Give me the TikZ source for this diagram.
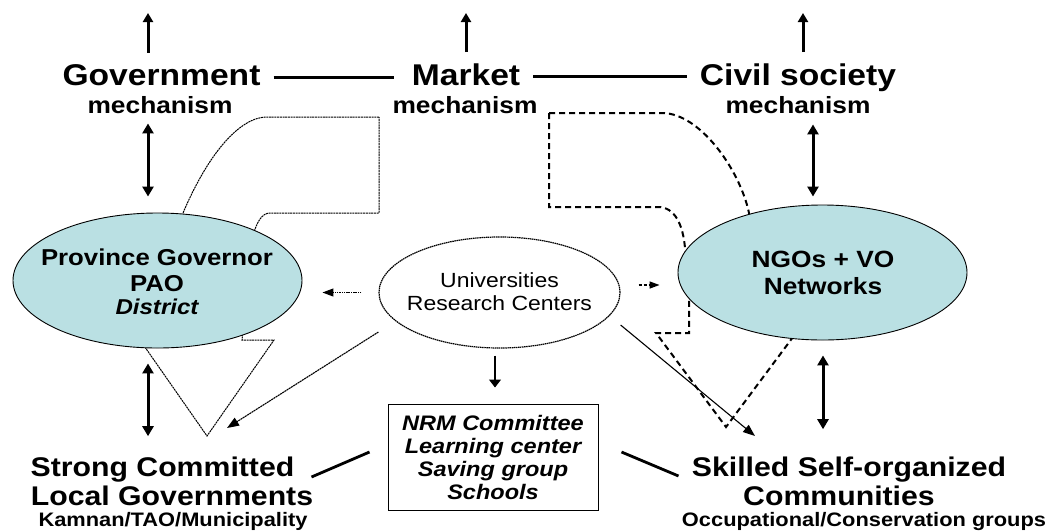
\documentclass[tikz,border=0pt]{standalone}
\usepackage{fontspec}
\setmainfont{Liberation Sans}[FakeStretch=1.12]
\usetikzlibrary{arrows.meta,shapes.geometric}
\definecolor{ovalfill}{RGB}{186,224,227}
\newcommand\fsz[2]{\fontsize{#1}{#2}\selectfont}
\begin{document}
\begin{tikzpicture}[x=1pt,y=-1pt,
  lbl/.style={inner sep=0pt,anchor=base},
  head/.style={lbl,font=\fsz{30}{36}\bfseries},
  mech/.style={lbl,font=\fsz{23.5}{28}\bfseries},
  big/.style={lbl,font=\fsz{27}{32}\bfseries},
  small/.style={lbl,font=\fsz{19.5}{24}\bfseries},
  oval/.style={ellipse,draw,line width=0.9pt,fill=ovalfill,
    minimum width=289pt,minimum height=135pt,inner sep=0pt},
  thickln/.style={line width=2.8pt},
  uparr/.style={line width=3pt,>={Triangle[length=9pt,width=10pt]},->},
  dbl/.style={line width=3pt,>={Triangle[length=10pt,width=11pt]},<->},
  fine/.style={line width=1pt,dash pattern=on 2pt off 0.7pt},
  thinarr/.style={line width=1.1pt,>={Triangle[length=12pt,width=9pt]},->},
  smallarr/.style={line width=1.1pt,>={Triangle[length=11pt,width=8pt]},->},
]
\fill[white] (0,0) rectangle (1047,531);
\useasboundingbox (0,0) rectangle (1047,531);

% bent block arrow from the market towards the local governments (behind the ovals)
\draw[fine]
  (379,117) -- (267,117)
  .. controls (240,117) and (208.5,153) .. (183,213)
  -- (172,340) -- (140,340) -- (207,436) -- (274,340) -- (242,340)
  -- (252,240) .. controls (256,222) and (262,213) .. (270,213)
  -- (379,213) -- cycle;

% bent block arrow from the market towards the communities (behind the ovals)
\draw[line width=2pt,dash pattern=on 6pt off 4pt]
  (549,113) -- (662,113)
  .. controls (700,113) and (740,170) .. (749,213)
  -- (764,333) -- (796,333) -- (726,427) -- (656,333) -- (689,333)
  -- (689,270) -- (685,248)
  .. controls (683,225) and (675,207) .. (658,207)
  -- (549,207) -- cycle;

% ovals
\node[oval] (prov) at (157.5,280.5) {};
\node[oval] (ngo) at (822.5,272.5) {};
\node[ellipse,draw,line width=1.2pt,dash pattern=on 1.5pt off 0.6pt,fill=white,
  minimum width=241pt,minimum height=111pt,inner sep=0pt] (uni) at (499.5,292.5) {};

\node[inner sep=0pt,align=center,font=\fsz{23}{26}\bfseries] (provtxt) at (157,282.2)
  {Province Governor\\PAO\\[-3pt]{\fsz{21.5}{24}\itshape District}};
\node[inner sep=0pt,align=center,font=\fsz{23.5}{27}\bfseries] (ngotxt) at (823,273)
  {NGOs + VO\\Networks};
\node[inner sep=0pt,align=center,font=\fsz{20.5}{23}] (unitxt) at (499.5,292)
  {Universities\\Research Centers};

% top row
\node[head] (gov) at (161.5,85) {Government};
\node[head] (mkt) at (466,85) {Market};
\node[head] (civ) at (798,85) {Civil society};
\node[mech] (govm) at (160,113) {mechanism};
\node[mech] (mktm) at (465,113) {mechanism};
\node[mech] (civm) at (798,113) {mechanism};

\draw[thickln,shorten <=13pt,shorten >=18pt]
  ([yshift=-2.5pt]gov.east) -- ([yshift=-2.5pt]gov.east -| mkt.west);
\draw[thickln,shorten <=13pt,shorten >=13pt]
  ([yshift=-2.5pt]mkt.east) -- ([yshift=-2.5pt]mkt.east -| civ.west);

\coordinate (gtop) at (148,13);
\coordinate (mtop) at (466,13);
\coordinate (ctop) at (803,13);
\draw[uparr,shorten <=11pt] (gov.north -| gtop) -- (gtop);
\draw[uparr,shorten <=11pt] (mkt.north -| mtop) -- (mtop);
\draw[uparr,shorten <=11pt] (civ.north -| ctop) -- (ctop);

% bottom row
\node[big] (sc1) at (162.5,476) {Strong Committed};
\node[big] (sc2) at (172,505) {Local Governments};
\node[small] (sc3) at (173,526) {Kamnan/TAO/Municipality};
\node[big] (sk1) at (849,476) {Skilled Self-organized};
\node[big] (sk2) at (839,505) {Communities};
\node[small] (sk3) at (864,526) {Occupational/Conservation groups};

\node[draw,line width=1pt,minimum width=210pt,minimum height=106pt,inner sep=0pt,
  align=center,font=\fsz{21}{23}\bfseries\itshape] (box) at (493,457)
  {NRM Committee\\Learning center\\Saving group\\Schools};

% vertical links
\coordinate (lx) at (148,0);
\coordinate (rtx) at (813,0);
\coordinate (rbx) at (823,0);
\coordinate (dx) at (495,0);
\draw[dbl,shorten <=10pt,shorten >=16pt] (govm.south -| lx) -- (prov.north -| lx);
\draw[dbl,shorten <=11pt,shorten >=8pt] (civm.south -| rtx) -- (ngo.north -| rtx);
\draw[dbl,shorten <=15pt,shorten >=20pt] (prov.south -| lx) -- (sc1.north -| lx);
\draw[dbl,shorten <=15pt,shorten >=27pt] (ngo.south -| rbx) -- (sk1.north -| rbx);

% links from the universities
\draw[smallarr,dash pattern=on 1.5pt off 0.8pt,shorten <=17pt,shorten >=20pt]
  (uni.west) -- (uni.west -| prov.east);
\draw[line width=1.3pt,dash pattern=on 3pt off 2pt,>={Triangle[length=10pt,width=7pt]},->,
  shorten <=18pt,shorten >=18pt]
  ([yshift=7.5pt]uni.east) -- ([yshift=7.5pt]uni.east -| ngo.west);
\draw[line width=1.1pt,>={Triangle[length=8pt,width=12pt]},->,shorten <=7pt,shorten >=16pt]
  (uni.south -| dx) -- (box.north -| dx);
\coordinate (lgtip) at (227,428);
\coordinate (sktip) at (755,436);
\draw[thinarr,dash pattern=on 2pt off 0.6pt] ([yshift=-39.5pt]uni.west) -- (lgtip);
\draw[thinarr] ([yshift=-32.5pt]uni.east) -- (sktip);

% ties between the box and the two bottom groups
\draw[thickln] ([shift={(-18pt,5pt)}]box.west) -- ([shift={(-76pt,-20pt)}]box.west);
\draw[thickln] ([shift={(23pt,5pt)}]box.east) -- ([shift={(80pt,-19pt)}]box.east);
\end{tikzpicture}
\end{document}
